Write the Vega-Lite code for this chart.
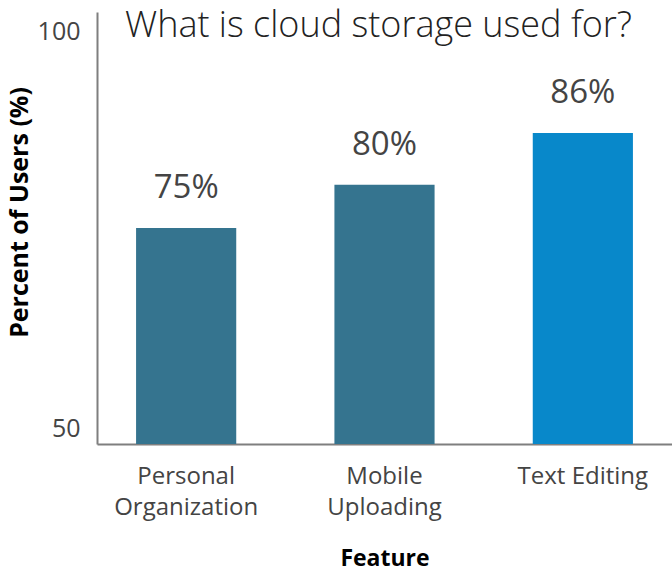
{
  "$schema": "https://vega.github.io/schema/vega-lite/v6.json",
  "autosize": "none",
  "padding": {"left": 97, "top": 12, "right": 0, "bottom": 130},
  "width": 575,
  "height": 432,
  "background": "white",
  "config": {"view": {"stroke": null}, "font": "Open Sans"},
  "title": {
    "text": "What is cloud storage used for?",
    "font": "Open Sans",
    "fontSize": 36,
    "fontWeight": 300,
    "color": "#222222",
    "anchor": "middle",
    "frame": "group",
    "baseline": "alphabetic",
    "offset": -61,
    "dx": -6
  },
  "data": {
    "values": [
      {"Feature": "Personal Organization", "Percent": 75},
      {"Feature": "Mobile Uploading", "Percent": 80},
      {"Feature": "Text Editing", "Percent": 86}
    ]
  },
  "transform": [{"calculate": "datum.Percent + '%'", "as": "PercentLabel"}],
  "encoding": {
    "x": {
      "field": "Feature",
      "type": "nominal",
      "sort": null,
      "scale": {"paddingInner": 0.495, "paddingOuter": 0.197},
      "axis": {
        "title": "Feature",
        "titleFont": "Open Sans",
        "titleFontSize": 23,
        "titleFontWeight": "bold",
        "titleColor": "#000000",
        "titlePadding": 28,
        "labelAngle": 0,
        "labelFont": "Open Sans",
        "labelFontSize": 24,
        "labelColor": "#444444",
        "labelPadding": 20,
        "labelLineHeight": 31,
        "labelExpr": "datum.value == 'Personal Organization' ? ['Personal', 'Organization'] : datum.value == 'Mobile Uploading' ? ['Mobile', 'Uploading'] : datum.value",
        "ticks": false,
        "domainColor": "#7f7f7f",
        "domainWidth": 2,
        "grid": false
      }
    },
    "y": {
      "field": "Percent",
      "type": "quantitative",
      "scale": {"domain": [50, 100], "nice": false, "zero": false},
      "axis": {
        "title": "Percent of Users (%)",
        "titleFont": "Open Sans",
        "titleFontSize": 25,
        "titleFontWeight": "bold",
        "titleColor": "#000000",
        "titlePadding": 5,
        "titleY": 200,
        "values": [50, 100],
        "labelFont": "Open Sans",
        "labelFontSize": 25,
        "labelColor": "#444444",
        "labelPadding": 17,
        "labelBaseline": "middle",
        "labelOffset": {"condition": {"test": "datum.value == 100", "value": 19}, "value": -16},
        "ticks": false,
        "grid": false,
        "domainColor": "#7f7f7f",
        "domainWidth": 2
      }
    }
  },
  "layer": [
    {
      "mark": {"type": "bar"},
      "encoding": {
        "y2": {"datum": 50},
        "color": {
          "field": "Feature",
          "type": "nominal",
          "scale": {
            "domain": ["Personal Organization", "Mobile Uploading", "Text Editing"],
            "range": ["#35748f", "#35748f", "#0888ca"]
          },
          "legend": null
        }
      }
    },
    {
      "mark": {"type": "text", "baseline": "alphabetic", "dy": -30, "fontSize": 33, "font": "Open Sans", "color": "#444444"},
      "encoding": {"text": {"field": "PercentLabel", "type": "nominal"}}
    }
  ]
}
